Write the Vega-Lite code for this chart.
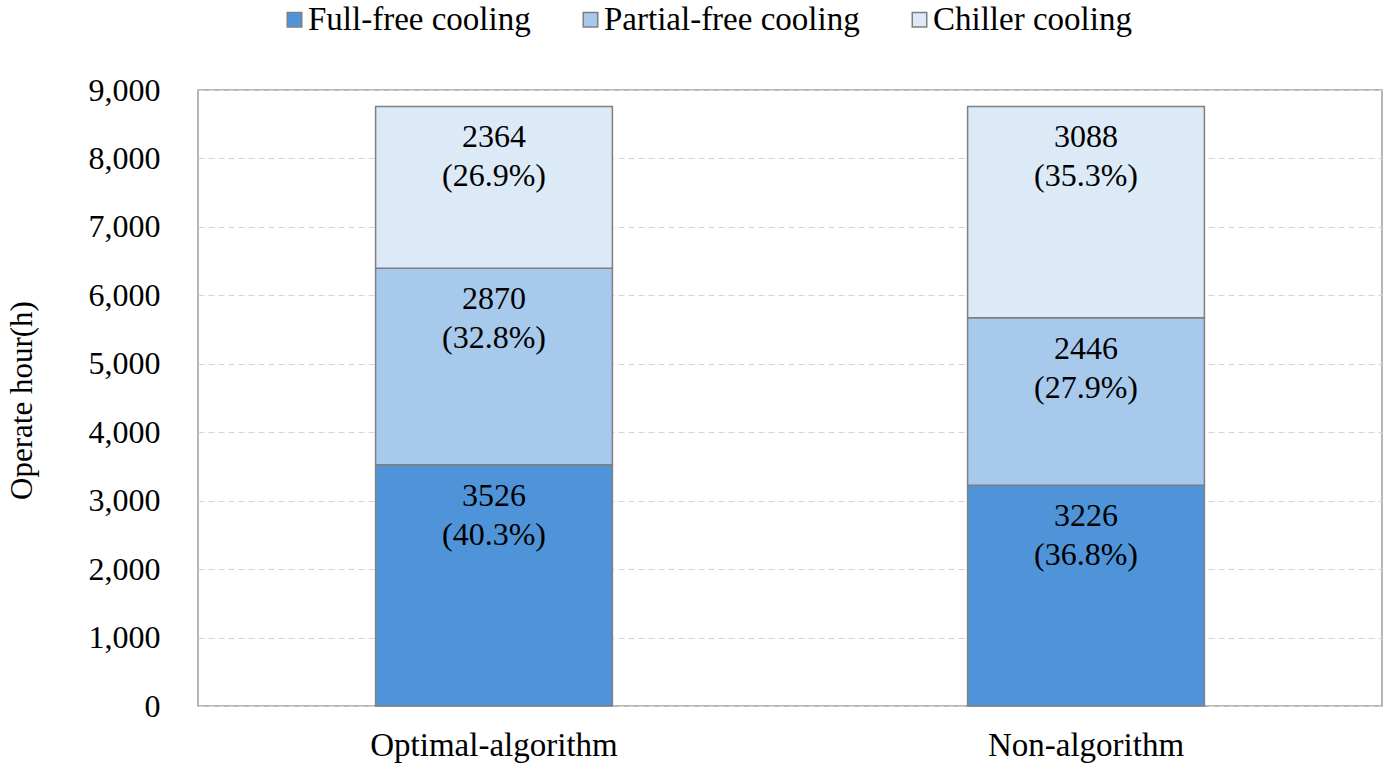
{
  "$schema": "https://vega.github.io/schema/vega-lite/v6.json",
  "autosize": {"type": "none"},
  "width": 1184,
  "height": 616,
  "padding": {"left": 198, "top": 90, "right": 13, "bottom": 67},
  "background": "white",
  "config": {
    "font": "Liberation Serif",
    "view": {"stroke": "#a0a0a0", "strokeWidth": 1.5},
    "axis": {"labelFont": "Liberation Serif", "titleFont": "Liberation Serif", "labelColor": "black", "titleColor": "black"},
    "legend": {"labelFont": "Liberation Serif"},
    "text": {"font": "Liberation Serif"}
  },
  "data": {
    "values": [
      {"scenario": "Optimal-algorithm", "mode": "Full-free cooling", "k": 1, "hours": 3526, "pct": 40.3},
      {"scenario": "Optimal-algorithm", "mode": "Partial-free cooling", "k": 2, "hours": 2870, "pct": 32.8},
      {"scenario": "Optimal-algorithm", "mode": "Chiller cooling", "k": 3, "hours": 2364, "pct": 26.9},
      {"scenario": "Non-algorithm", "mode": "Full-free cooling", "k": 1, "hours": 3226, "pct": 36.8},
      {"scenario": "Non-algorithm", "mode": "Partial-free cooling", "k": 2, "hours": 2446, "pct": 27.9},
      {"scenario": "Non-algorithm", "mode": "Chiller cooling", "k": 3, "hours": 3088, "pct": 35.3}
    ]
  },
  "transform": [
    {"stack": "hours", "groupby": ["scenario"], "sort": [{"field": "k", "order": "ascending"}], "as": ["y0", "y1"]},
    {"calculate": "[toString(datum.hours), '(' + format(datum.pct, '.1f') + '%)']", "as": "label"}
  ],
  "encoding": {
    "x": {
      "field": "scenario", "type": "nominal", "sort": ["Optimal-algorithm", "Non-algorithm"],
      "scale": {"paddingInner": 0.6, "paddingOuter": 0.3},
      "axis": {"title": null, "labelAngle": 0, "labelFontSize": 33, "labelColor": "black", "labelPadding": 23, "labelLimit": 500, "ticks": false, "domain": false, "grid": false}
    }
  },
  "layer": [
    {
      "mark": {"type": "bar", "stroke": "#7f7f7f", "strokeWidth": 1.5},
      "encoding": {
        "y": {
          "field": "y0", "type": "quantitative",
          "scale": {"domain": [0, 9000], "nice": false},
          "axis": {
            "title": "Operate hour(h)", "titleFontSize": 31, "titleFontWeight": "normal", "titleColor": "black",
            "titleAngle": -90, "titleAlign": "center", "titleBaseline": "middle",
            "titleX": -176, "titleY": 310,
            "values": [0, 1000, 2000, 3000, 4000, 5000, 6000, 7000, 8000, 9000],
            "format": ",.0f", "labelFontSize": 32, "labelColor": "black", "labelPadding": 38, "ticks": false, "domain": false,
            "grid": true, "gridColor": "#d4d4d4", "gridDash": [6, 4], "gridWidth": 1
          }
        },
        "y2": {"field": "y1"},
        "color": {
          "field": "mode", "type": "nominal",
          "scale": {"domain": ["Full-free cooling", "Partial-free cooling", "Chiller cooling"], "range": ["#4f94d8", "#a7c9ec", "#dce9f6"]},
          "legend": {
            "title": null, "orient": "none", "direction": "horizontal",
            "legendX": 80, "legendY": -87, "padding": 0,
            "symbolType": "square", "symbolSize": 210, "symbolStrokeColor": "#7f7f7f", "symbolStrokeWidth": 1.5,
            "labelFontSize": 33, "labelColor": "black", "labelOffset": -3, "columnPadding": 43, "labelLimit": 400
          }
        }
      }
    },
    {
      "mark": {"type": "text", "baseline": "top", "align": "center", "fontSize": 32, "lineHeight": 39, "dy": 16, "color": "black", "font": "Liberation Serif"},
      "encoding": {
        "y": {"field": "y1", "type": "quantitative"},
        "text": {"field": "label"}
      }
    }
  ]
}
